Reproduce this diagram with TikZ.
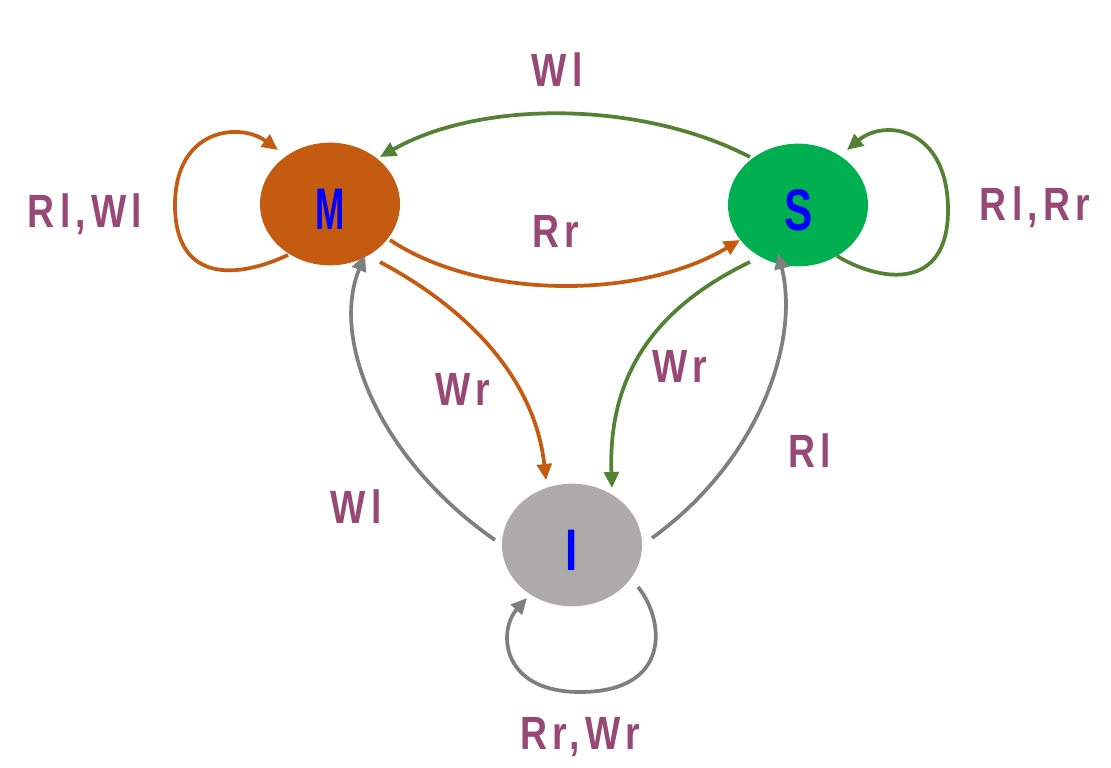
\documentclass[tikz,border=0pt]{standalone}
\usepackage{fontspec}
\usepackage{graphicx}
\setmainfont{Liberation Sans}
\newfontfamily\labfont[LetterSpace=14]{Liberation Sans}
\newcommand{\lbltext}[1]{\scalebox{0.8}[1]{#1}}
\usetikzlibrary{arrows.meta,shapes.geometric}
\definecolor{morange}{HTML}{C55A11}
\definecolor{sgreen}{HTML}{00B050}
\definecolor{egreen}{HTML}{548235}
\definecolor{igray}{HTML}{AEAAAA}
\definecolor{egray}{HTML}{7F7F7F}
\definecolor{lbl}{HTML}{984874}
\definecolor{nblue}{HTML}{0000FF}
\tikzset{
  state/.style={ellipse,minimum width=105pt,minimum height=92pt,inner sep=0pt},
  statetext/.style={text=nblue,font=\bfseries\fontsize{44}{44}\selectfont},
  lab/.style={text=lbl,font=\labfont\bfseries\fontsize{35}{35}\selectfont,inner sep=0pt},
  edge/.style={line width=2.8pt,-{Triangle[length=12pt,width=11pt]}}
}
\begin{document}
\begin{tikzpicture}[x=0.75pt,y=-0.75pt]
\useasboundingbox (0,0) rectangle (1111,768);
\node[state,fill=morange] (M) at (330,204) {};
\node[state,fill=sgreen] (S) at (798,205) {};
\node[state,fill=igray] (I) at (572,545) {};
\node[statetext] (Mt) at (330,209) {\scalebox{0.6}[1]{M}};
\node[statetext] (St) at (799,210) {\scalebox{0.72}[1]{S}};
\node[statetext] (It) at (572,550) {\scalebox{0.75}[1]{I}};
% anchors
\coordinate (m1) at (288,255);
\coordinate (m2) at (278,150);
\coordinate (m3) at (380,157);
\coordinate (m4) at (390,240);
\coordinate (m5) at (380,262);
\coordinate (m6) at (365,255);
\coordinate (s1) at (750,157);
\coordinate (s2) at (740,240);
\coordinate (s3) at (837,256);
\coordinate (s4) at (847,150);
\coordinate (s5) at (750,262);
\coordinate (s6) at (778,253);
\coordinate (i1) at (546,480);
\coordinate (i2) at (612,488);
\coordinate (i3) at (495,540);
\coordinate (i4) at (652,538);
\coordinate (i5) at (638,587);
\coordinate (i6) at (527,598);
% edges
\draw[edge,morange] (m1) .. controls (230,282) and (175,278) .. (175,205) .. controls (175,128) and (240,122) .. (m2);
\draw[edge,egreen] (s1) .. controls (640,100) and (480,100) .. (m3);
\draw[edge,morange] (m4) .. controls (480,300) and (640,300) .. (s2);
\draw[edge,egreen] (s3) .. controls (880,282) and (948,292) .. (948,210) .. controls (948,128) and (885,118) .. (s4);
\draw[edge,morange] (m5) .. controls (470,310) and (535,380) .. (i1);
\draw[edge,egreen] (s5) .. controls (650,310) and (608,380) .. (i2);
\draw[edge,egray] (i3) .. controls (380,460) and (330,340) .. (m6);
\draw[edge,egray] (i4) .. controls (760,460) and (800,340) .. (s6);
\draw[edge,egray] (i5) .. controls (665,620) and (672,692) .. (580,692) .. controls (500,692) and (498,630) .. (i6);
% labels
\node[lab] (l1) at (85,214) {\lbltext{Rl,Wl}};
\node[lab] (l2) at (557,70) {\lbltext{Wl}};
\node[lab] (l3) at (556,231) {\lbltext{Rr}};
\node[lab] (l4) at (1035,207) {\lbltext{Rl,Rr}};
\node[lab] (l5) at (463,389) {\lbltext{Wr}};
\node[lab] (l6) at (680,366) {\lbltext{Wr}};
\node[lab] (l7) at (356,507) {\lbltext{Wl}};
\node[lab] (l8) at (810,451) {\lbltext{Rl}};
\node[lab] (l9) at (580,737) {\lbltext{Rr,Wr}};
\end{tikzpicture}
\end{document}
